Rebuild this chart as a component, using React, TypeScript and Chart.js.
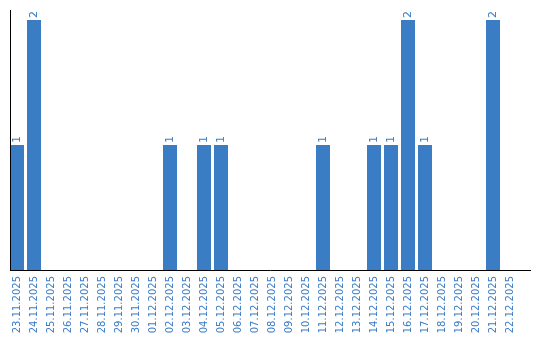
import React, { useEffect, useRef } from "react";
import { Chart, registerables } from "chart.js";

Chart.register(...registerables);

const categories = [
  "23.11.2025", "24.11.2025", "25.11.2025", "26.11.2025", "27.11.2025",
  "28.11.2025", "29.11.2025", "30.11.2025", "01.12.2025", "02.12.2025",
  "03.12.2025", "04.12.2025", "05.12.2025", "06.12.2025", "07.12.2025",
  "08.12.2025", "09.12.2025", "10.12.2025", "11.12.2025", "12.12.2025",
  "13.12.2025", "14.12.2025", "15.12.2025", "16.12.2025", "17.12.2025",
  "18.12.2025", "19.12.2025", "20.12.2025", "21.12.2025", "22.12.2025",
];

const counts = [
  1, 2, 0, 0, 0, 0, 0, 0, 0, 1,
  0, 1, 1, 0, 0, 0, 0, 0, 1, 0,
  0, 1, 1, 2, 1, 0, 0, 0, 2, 0,
];

const BLUE = "#3b7dc4";
const LABEL_BLUE = "#3a7cc6";

const axisLinesPlugin = {
  id: "axisLines",
  afterDatasetsDraw(chart: any) {
    const ctx = chart.ctx;
    const area = chart.chartArea;
    ctx.save();
    ctx.strokeStyle = "#000";
    ctx.lineWidth = 1;
    ctx.beginPath();
    ctx.moveTo(10.5, area.top);
    ctx.lineTo(10.5, area.bottom);
    ctx.moveTo(10, area.bottom + 0.5);
    ctx.lineTo(531, area.bottom + 0.5);
    ctx.stroke();
    ctx.restore();
  },
};

const valueLabelPlugin = {
  id: "valueLabels",
  afterDatasetsDraw(chart: any) {
    const ctx = chart.ctx;
    const meta = chart.getDatasetMeta(0);
    const data = chart.data.datasets[0].data as number[];
    ctx.save();
    ctx.fillStyle = LABEL_BLUE;
    ctx.font = "11px 'DejaVu Sans'";
    ctx.textAlign = "left";
    ctx.textBaseline = "middle";
    meta.data.forEach((bar: any, i: number) => {
      const v = data[i];
      if (!v) return;
      ctx.save();
      ctx.translate(bar.x, bar.y - 2);
      ctx.rotate(-Math.PI / 2);
      ctx.fillText(String(v), 0, 0);
      ctx.restore();
    });
    ctx.restore();
  },
};

export default function App() {
  const ref = useRef<HTMLCanvasElement | null>(null);

  useEffect(() => {
    if (!ref.current) return;
    const chart = new Chart(ref.current, {
      type: "bar",
      data: {
        labels: categories,
        datasets: [
          {
            data: counts,
            backgroundColor: BLUE,
            borderWidth: 0,
            categoryPercentage: 1,
            barPercentage: 14 / 17,
          },
        ],
      },
      options: {
        animation: false,
        responsive: false,
        maintainAspectRatio: false,
        layout: { padding: { left: 8.5, right: 21.5, top: 10, bottom: 0 } },
        plugins: {
          legend: { display: false },
          tooltip: { enabled: false },
          title: { display: false },
        },
        scales: {
          x: {
            type: "category",
            offset: true,
            grid: { display: false, drawTicks: false },
            border: { display: false },
            ticks: {
              autoSkip: false,
              minRotation: 90,
              maxRotation: 90,
              padding: 6,
              color: LABEL_BLUE,
              font: { family: "'DejaVu Sans'", size: 10 },
            },
            afterFit(scale: any) {
              scale.height = 70;
            },
          },
          y: {
            display: false,
            min: 0,
            max: 2.08,
          },
        },
      },
      plugins: [axisLinesPlugin, valueLabelPlugin],
    });
    return () => chart.destroy();
  }, []);

  return (
    <div style={{ position: "absolute", left: 0, top: 0, width: 540, height: 340, background: "#fff" }}>
      <canvas ref={ref} width={540} height={340} style={{ display: "block" }} />
    </div>
  );
}
